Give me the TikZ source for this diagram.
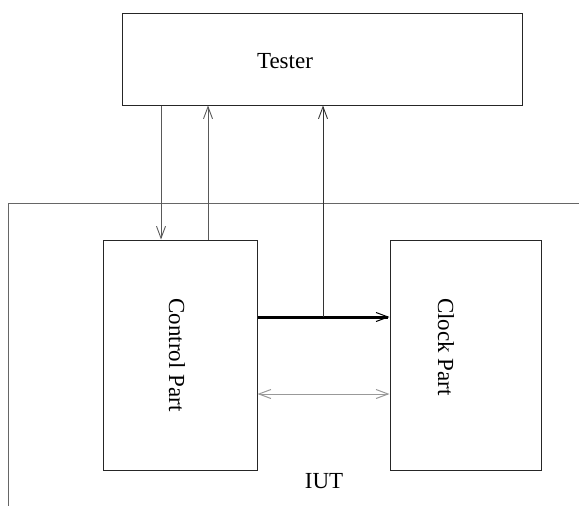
\documentclass[tikz,border=0pt]{standalone}
\usepackage{fontspec}
\setmainfont{Liberation Serif}
\usetikzlibrary{arrows.meta}
\begin{document}
\begin{tikzpicture}[x=1pt,y=-1pt,
  box/.style={draw=black!85,line width=1pt,minimum width=#1,inner sep=0pt},
  txt/.style={font=\fontsize{23}{26}\selectfont,inner sep=0pt},
  thin/.style={draw=black!65,line width=0.9pt},
  tip/.style={-{Straight Barb[length=12pt,width=9pt]}}
]
\useasboundingbox (0,0) rectangle (579,506);
\node[box=400pt,minimum height=92pt] (tester) at (322,59) {};
\node[txt] (testertxt) at (285,61) {Tester};
\node[box=154pt,minimum height=230pt] (ctrl) at (180,355) {};
\node[box=151pt,minimum height=230pt] (clock) at (465.5,355) {};
\node[txt,rotate=-90] (ctrltxt) at (177,355) {Control Part};
\node[txt,rotate=-90] (clocktxt) at (446,347) {Clock Part};
\node[txt] (iut) at (324,481) {IUT};
% IUT frame
\coordinate (f1) at (8,506);
\coordinate (f2) at (8,203);
\coordinate (f3) at (579,203);
\draw[black!60,line width=1pt] (f1) -- (f2) -- (f3);
% connectors
\coordinate (xa) at (161,0);
\coordinate (xb) at (208,0);
\coordinate (j) at (323,317);
\draw[thin,tip] (tester.south -| xa) -- (ctrl.north -| xa);
\draw[thin,tip] (ctrl.north -| xb) -- (tester.south -| xb);
\draw[line width=3pt,-{Straight Barb[length=12pt,width=9pt,line width=1pt]}] (ctrl.east |- j) -- (clock.west |- j);
\draw[thin,black!80,tip] (j) -- (tester.south -| j);
\coordinate (d) at (0,394);
\draw[draw=black!40,line width=1pt,{Straight Barb[length=12pt,width=9pt]}-{Straight Barb[length=12pt,width=9pt]}] (ctrl.east |- d) -- (clock.west |- d);
\end{tikzpicture}
\end{document}
